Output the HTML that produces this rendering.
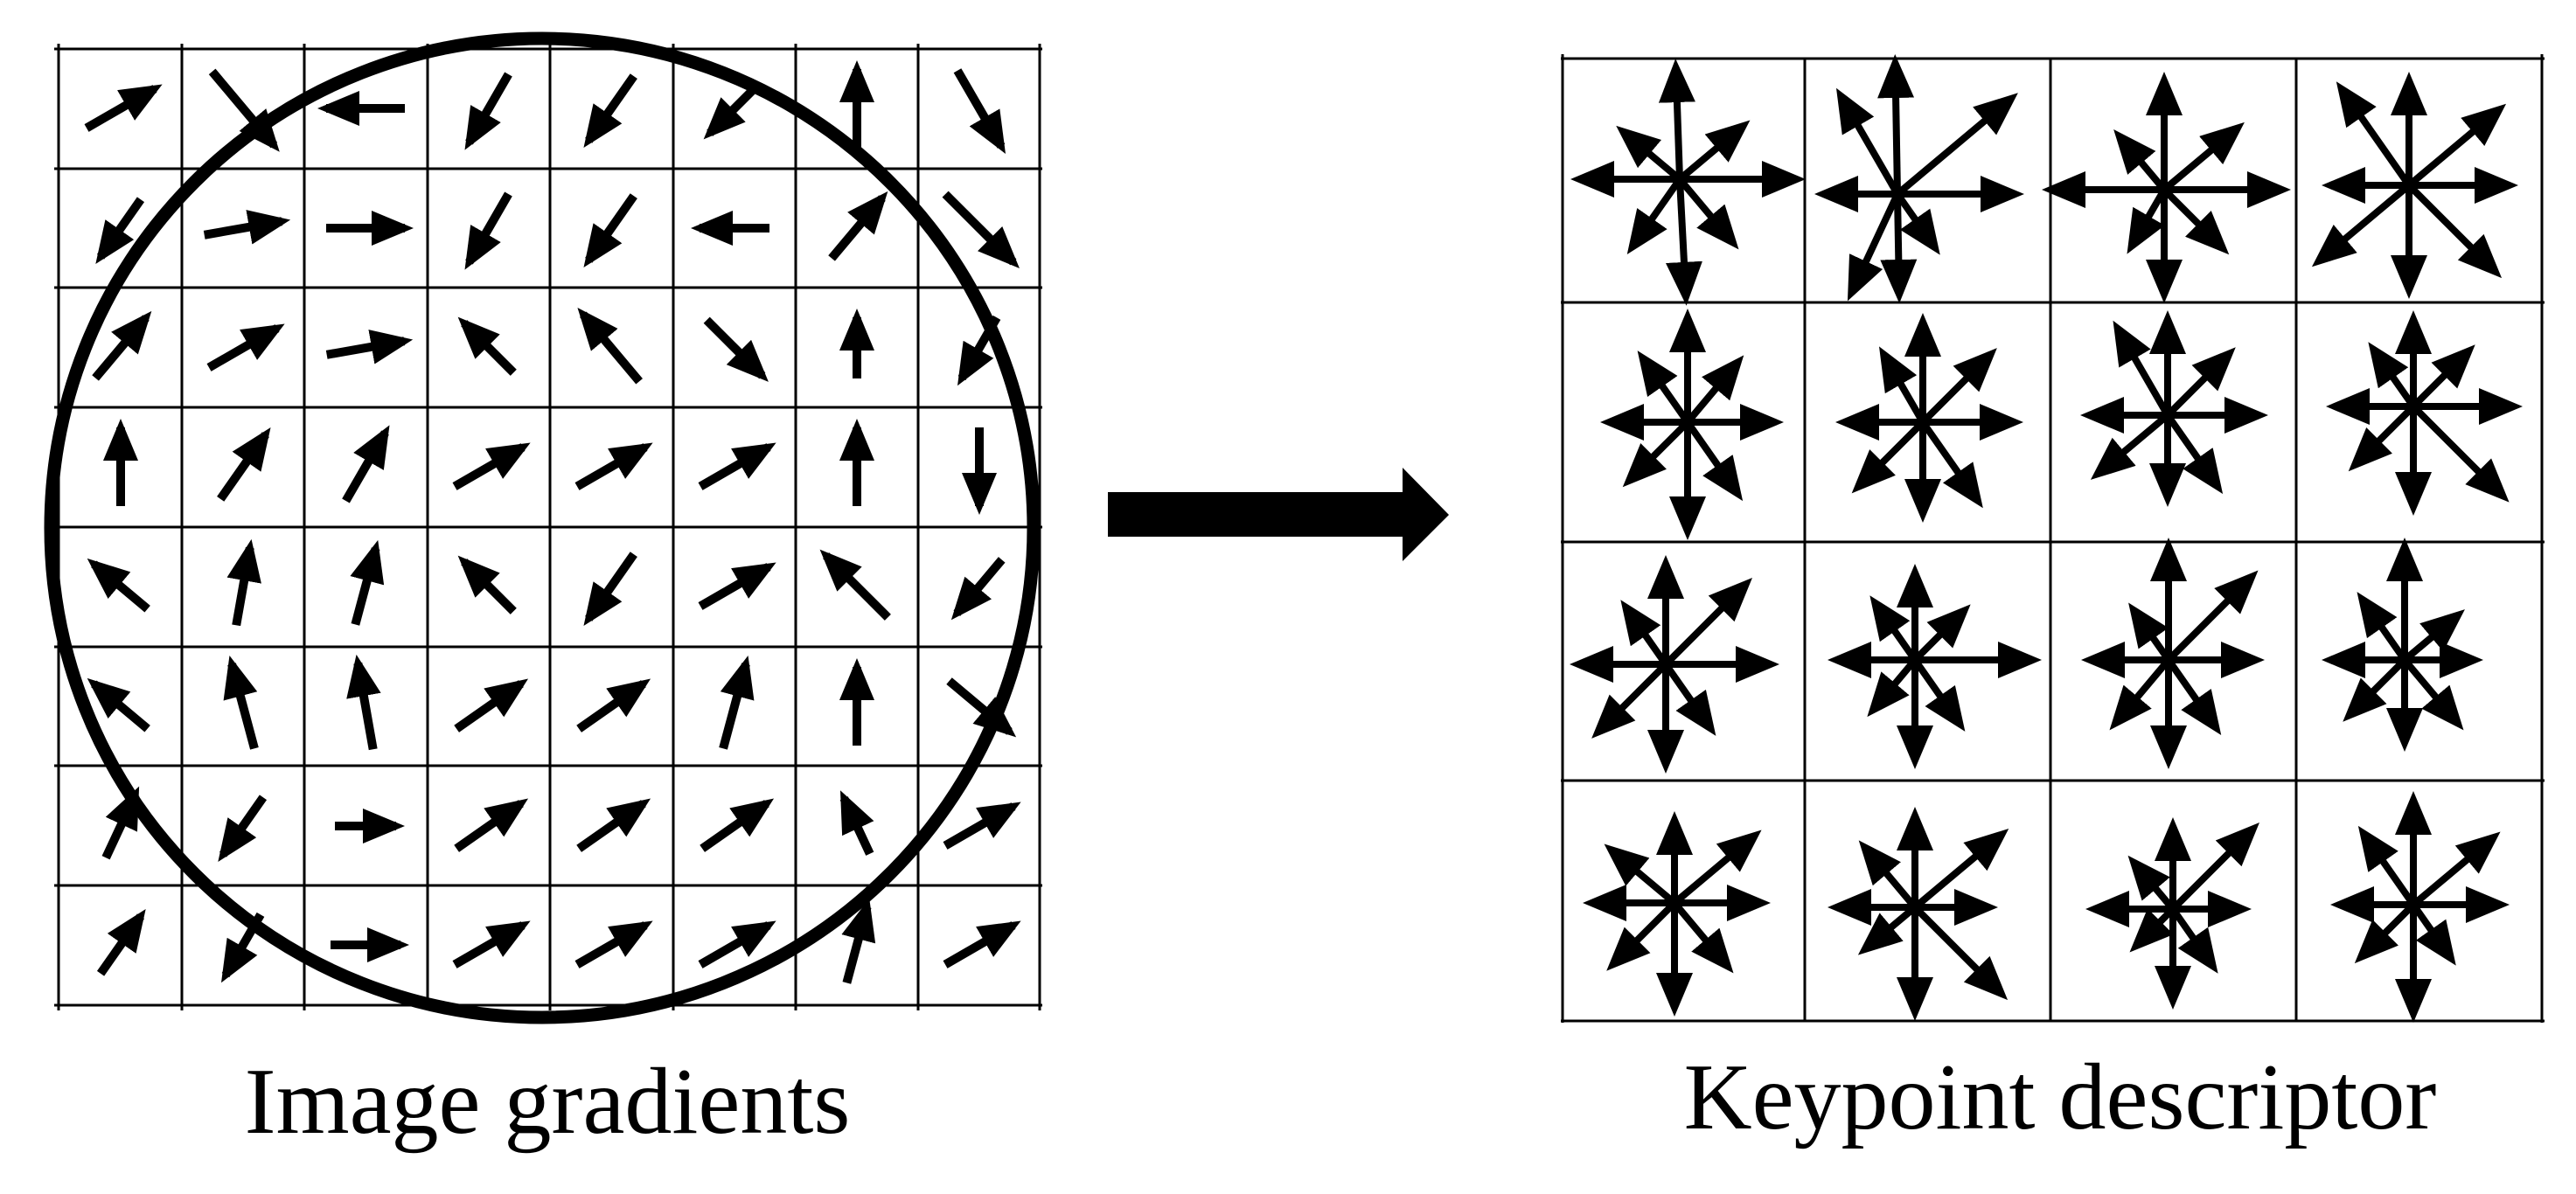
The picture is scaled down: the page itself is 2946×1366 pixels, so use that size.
<!DOCTYPE html>
<html><head><meta charset="utf-8"><style>
html,body{margin:0;padding:0;background:#fff;}
svg{display:block;}
text{font-family:"Liberation Serif",serif;}
</style></head><body>
<svg width="2946" height="1366" viewBox="0 0 2946 1366" xmlns="http://www.w3.org/2000/svg">
<defs>
<marker id="h" markerUnits="userSpaceOnUse" markerWidth="50" markerHeight="42" refX="38" refY="20" orient="auto"><path d="M0,0 L48,20 L0,40 z" fill="#000"/></marker>
<marker id="s" markerUnits="userSpaceOnUse" markerWidth="52" markerHeight="44" refX="40" refY="21" orient="auto"><path d="M0,0 L50,21 L0,42 z" fill="#000"/></marker>
</defs>
<rect width="2946" height="1366" fill="#fff"/>
<g stroke="#000" stroke-width="3">
<line x1="62" y1="56" x2="1192" y2="56"/><line x1="62" y1="193" x2="1192" y2="193"/><line x1="62" y1="329" x2="1192" y2="329"/><line x1="62" y1="466" x2="1192" y2="466"/><line x1="62" y1="603" x2="1192" y2="603"/><line x1="62" y1="740" x2="1192" y2="740"/><line x1="62" y1="876" x2="1192" y2="876"/><line x1="62" y1="1013" x2="1192" y2="1013"/><line x1="62" y1="1150" x2="1192" y2="1150"/>
<line x1="67" y1="50" x2="67" y2="1156"/><line x1="208" y1="50" x2="208" y2="1156"/><line x1="348" y1="50" x2="348" y2="1156"/><line x1="489" y1="50" x2="489" y2="1156"/><line x1="629" y1="50" x2="629" y2="1156"/><line x1="770" y1="50" x2="770" y2="1156"/><line x1="910" y1="50" x2="910" y2="1156"/><line x1="1050" y1="50" x2="1050" y2="1156"/><line x1="1189" y1="50" x2="1189" y2="1156"/>
</g>
<g stroke="#000" stroke-width="10" marker-end="url(#h)">
<g transform="translate(138,124)"><line x1="-45" y1="0" x2="45" y2="0" transform="rotate(-30)"/></g>
<g transform="translate(278,124)"><line x1="-55" y1="0" x2="55" y2="0" transform="rotate(50)"/></g>
<g transform="translate(418,124)"><line x1="-45" y1="0" x2="45" y2="0" transform="rotate(180)"/></g>
<g transform="translate(559,124)"><line x1="-45" y1="0" x2="45" y2="0" transform="rotate(120)"/></g>
<g transform="translate(699,124)"><line x1="-45" y1="0" x2="45" y2="0" transform="rotate(125)"/></g>
<g transform="translate(840,124)"><line x1="-40" y1="0" x2="40" y2="0" transform="rotate(135)"/></g>
<g transform="translate(980,124)"><line x1="-45" y1="0" x2="45" y2="0" transform="rotate(-90)"/></g>
<g transform="translate(1120,124)"><line x1="-50" y1="0" x2="50" y2="0" transform="rotate(60)"/></g>

<g transform="translate(138,261)"><line x1="-40" y1="0" x2="40" y2="0" transform="rotate(125)"/></g>
<g transform="translate(278,261)"><line x1="-45" y1="0" x2="45" y2="0" transform="rotate(-10)"/></g>
<g transform="translate(418,261)"><line x1="-45" y1="0" x2="45" y2="0" transform="rotate(0)"/></g>
<g transform="translate(559,261)"><line x1="-45" y1="0" x2="45" y2="0" transform="rotate(120)"/></g>
<g transform="translate(699,261)"><line x1="-45" y1="0" x2="45" y2="0" transform="rotate(125)"/></g>
<g transform="translate(840,261)"><line x1="-40" y1="0" x2="40" y2="0" transform="rotate(180)"/></g>
<g transform="translate(980,261)"><line x1="-45" y1="0" x2="45" y2="0" transform="rotate(-50)"/></g>
<g transform="translate(1120,261)"><line x1="-55" y1="0" x2="55" y2="0" transform="rotate(45)"/></g>

<g transform="translate(138,398)"><line x1="-45" y1="0" x2="45" y2="0" transform="rotate(-50)"/></g>
<g transform="translate(278,398)"><line x1="-45" y1="0" x2="45" y2="0" transform="rotate(-30)"/></g>
<g transform="translate(418,398)"><line x1="-45" y1="0" x2="45" y2="0" transform="rotate(-10)"/></g>
<g transform="translate(559,398)"><line x1="-40" y1="0" x2="40" y2="0" transform="rotate(-135)"/></g>
<g transform="translate(699,398)"><line x1="-50" y1="0" x2="50" y2="0" transform="rotate(-130)"/></g>
<g transform="translate(840,398)"><line x1="-45" y1="0" x2="45" y2="0" transform="rotate(45)"/></g>
<g transform="translate(980,398)"><line x1="-35" y1="0" x2="35" y2="0" transform="rotate(-90)"/></g>
<g transform="translate(1120,398)"><line x1="-40" y1="0" x2="40" y2="0" transform="rotate(120)"/></g>

<g transform="translate(138,534)"><line x1="-45" y1="0" x2="45" y2="0" transform="rotate(-90)"/></g>
<g transform="translate(278,534)"><line x1="-45" y1="0" x2="45" y2="0" transform="rotate(-55)"/></g>
<g transform="translate(418,534)"><line x1="-45" y1="0" x2="45" y2="0" transform="rotate(-60)"/></g>
<g transform="translate(559,534)"><line x1="-45" y1="0" x2="45" y2="0" transform="rotate(-30)"/></g>
<g transform="translate(699,534)"><line x1="-45" y1="0" x2="45" y2="0" transform="rotate(-30)"/></g>
<g transform="translate(840,534)"><line x1="-45" y1="0" x2="45" y2="0" transform="rotate(-30)"/></g>
<g transform="translate(980,534)"><line x1="-45" y1="0" x2="45" y2="0" transform="rotate(-90)"/></g>
<g transform="translate(1120,534)"><line x1="-45" y1="0" x2="45" y2="0" transform="rotate(90)"/></g>

<g transform="translate(138,671)"><line x1="-40" y1="0" x2="40" y2="0" transform="rotate(-140)"/></g>
<g transform="translate(278,671)"><line x1="-45" y1="0" x2="45" y2="0" transform="rotate(-80)"/></g>
<g transform="translate(418,671)"><line x1="-45" y1="0" x2="45" y2="0" transform="rotate(-75)"/></g>
<g transform="translate(559,671)"><line x1="-40" y1="0" x2="40" y2="0" transform="rotate(-135)"/></g>
<g transform="translate(699,671)"><line x1="-45" y1="0" x2="45" y2="0" transform="rotate(125)"/></g>
<g transform="translate(840,671)"><line x1="-45" y1="0" x2="45" y2="0" transform="rotate(-30)"/></g>
<g transform="translate(980,671)"><line x1="-50" y1="0" x2="50" y2="0" transform="rotate(-135)"/></g>
<g transform="translate(1120,671)"><line x1="-40" y1="0" x2="40" y2="0" transform="rotate(130)"/></g>

<g transform="translate(138,808)"><line x1="-40" y1="0" x2="40" y2="0" transform="rotate(-140)"/></g>
<g transform="translate(278,808)"><line x1="-50" y1="0" x2="50" y2="0" transform="rotate(-105)"/></g>
<g transform="translate(418,808)"><line x1="-50" y1="0" x2="50" y2="0" transform="rotate(-100)"/></g>
<g transform="translate(559,808)"><line x1="-45" y1="0" x2="45" y2="0" transform="rotate(-35)"/></g>
<g transform="translate(699,808)"><line x1="-45" y1="0" x2="45" y2="0" transform="rotate(-35)"/></g>
<g transform="translate(840,808)"><line x1="-50" y1="0" x2="50" y2="0" transform="rotate(-75)"/></g>
<g transform="translate(980,808)"><line x1="-45" y1="0" x2="45" y2="0" transform="rotate(-90)"/></g>
<g transform="translate(1120,808)"><line x1="-45" y1="0" x2="45" y2="0" transform="rotate(40)"/></g>

<g transform="translate(138,945)"><line x1="-40" y1="0" x2="40" y2="0" transform="rotate(-65)"/></g>
<g transform="translate(278,945)"><line x1="-40" y1="0" x2="40" y2="0" transform="rotate(125)"/></g>
<g transform="translate(418,945)"><line x1="-35" y1="0" x2="35" y2="0" transform="rotate(0)"/></g>
<g transform="translate(559,945)"><line x1="-45" y1="0" x2="45" y2="0" transform="rotate(-35)"/></g>
<g transform="translate(699,945)"><line x1="-45" y1="0" x2="45" y2="0" transform="rotate(-35)"/></g>
<g transform="translate(840,945)"><line x1="-45" y1="0" x2="45" y2="0" transform="rotate(-35)"/></g>
<g transform="translate(980,945)"><line x1="-35" y1="0" x2="35" y2="0" transform="rotate(-115)"/></g>
<g transform="translate(1120,945)"><line x1="-45" y1="0" x2="45" y2="0" transform="rotate(-30)"/></g>

<g transform="translate(138,1081)"><line x1="-40" y1="0" x2="40" y2="0" transform="rotate(-55)"/></g>
<g transform="translate(278,1081)"><line x1="-40" y1="0" x2="40" y2="0" transform="rotate(120)"/></g>
<g transform="translate(418,1081)"><line x1="-40" y1="0" x2="40" y2="0" transform="rotate(0)"/></g>
<g transform="translate(559,1081)"><line x1="-45" y1="0" x2="45" y2="0" transform="rotate(-30)"/></g>
<g transform="translate(699,1081)"><line x1="-45" y1="0" x2="45" y2="0" transform="rotate(-30)"/></g>
<g transform="translate(840,1081)"><line x1="-45" y1="0" x2="45" y2="0" transform="rotate(-30)"/></g>
<g transform="translate(980,1081)"><line x1="-45" y1="0" x2="45" y2="0" transform="rotate(-75)"/></g>
<g transform="translate(1120,1081)"><line x1="-45" y1="0" x2="45" y2="0" transform="rotate(-30)"/></g>
</g>
<ellipse cx="620" cy="604" rx="562" ry="560" fill="none" stroke="#000" stroke-width="15"/>
<path d="M1267,563 L1604,563 L1604,535 L1657,589 L1604,642 L1604,614 L1267,614 z" fill="#000"/>
<g stroke="#000" stroke-width="3">
<line x1="1785" y1="67" x2="2910" y2="67"/><line x1="1785" y1="346" x2="2910" y2="346"/><line x1="1785" y1="620" x2="2910" y2="620"/><line x1="1785" y1="893" x2="2910" y2="893"/><line x1="1785" y1="1168" x2="2910" y2="1168"/>
<line x1="1787" y1="62" x2="1787" y2="1170"/><line x1="2064" y1="67" x2="2064" y2="1168"/><line x1="2345" y1="67" x2="2345" y2="1168"/><line x1="2626" y1="67" x2="2626" y2="1168"/><line x1="2907" y1="62" x2="2907" y2="1170"/>
</g>
<g stroke="#000" stroke-width="8" marker-end="url(#s)">
<g transform="translate(1921,205)"><line x2="134" transform="rotate(0)"/><line x2="95" transform="rotate(-40)"/><line x2="128" transform="rotate(-92)"/><line x2="85" transform="rotate(-140)"/><line x2="115" transform="rotate(180)"/><line x2="95" transform="rotate(125)"/><line x2="135" transform="rotate(87)"/><line x2="95" transform="rotate(50)"/></g>
<g transform="translate(2170,222)"><line x2="135" transform="rotate(0)"/><line x2="170" transform="rotate(-40)"/><line x2="150" transform="rotate(-91)"/><line x2="130" transform="rotate(-120)"/><line x2="85" transform="rotate(180)"/><line x2="125" transform="rotate(115)"/><line x2="115" transform="rotate(89)"/><line x2="75" transform="rotate(55)"/></g>
<g transform="translate(2475,217)"><line x2="135" transform="rotate(0)"/><line x2="110" transform="rotate(-40)"/><line x2="125" transform="rotate(-90)"/><line x2="80" transform="rotate(-130)"/><line x2="130" transform="rotate(180)"/><line x2="75" transform="rotate(120)"/><line x2="120" transform="rotate(90)"/><line x2="95" transform="rotate(45)"/></g>
<g transform="translate(2755,212)"><line x2="115" transform="rotate(0)"/><line x2="135" transform="rotate(-40)"/><line x2="120" transform="rotate(-90)"/><line x2="135" transform="rotate(-125)"/><line x2="90" transform="rotate(180)"/><line x2="135" transform="rotate(140)"/><line x2="120" transform="rotate(90)"/><line x2="140" transform="rotate(45)"/></g>

<g transform="translate(1930,483)"><line x2="100" transform="rotate(0)"/><line x2="90" transform="rotate(-50)"/><line x2="120" transform="rotate(-90)"/><line x2="90" transform="rotate(-125)"/><line x2="90" transform="rotate(180)"/><line x2="95" transform="rotate(135)"/><line x2="125" transform="rotate(90)"/><line x2="100" transform="rotate(55)"/></g>
<g transform="translate(2199,483)"><line x2="105" transform="rotate(0)"/><line x2="110" transform="rotate(-45)"/><line x2="115" transform="rotate(-90)"/><line x2="90" transform="rotate(-120)"/><line x2="90" transform="rotate(180)"/><line x2="105" transform="rotate(135)"/><line x2="105" transform="rotate(90)"/><line x2="110" transform="rotate(55)"/></g>
<g transform="translate(2479,475)"><line x2="105" transform="rotate(0)"/><line x2="100" transform="rotate(-45)"/><line x2="110" transform="rotate(-90)"/><line x2="115" transform="rotate(-120)"/><line x2="90" transform="rotate(180)"/><line x2="105" transform="rotate(140)"/><line x2="95" transform="rotate(90)"/><line x2="100" transform="rotate(55)"/></g>
<g transform="translate(2760,465)"><line x2="115" transform="rotate(0)"/><line x2="90" transform="rotate(-45)"/><line x2="100" transform="rotate(-90)"/><line x2="80" transform="rotate(-125)"/><line x2="90" transform="rotate(180)"/><line x2="95" transform="rotate(135)"/><line x2="115" transform="rotate(90)"/><line x2="145" transform="rotate(45)"/></g>

<g transform="translate(1905,760)"><line x2="120" transform="rotate(0)"/><line x2="130" transform="rotate(-45)"/><line x2="115" transform="rotate(-90)"/><line x2="80" transform="rotate(-125)"/><line x2="100" transform="rotate(180)"/><line x2="110" transform="rotate(135)"/><line x2="115" transform="rotate(90)"/><line x2="90" transform="rotate(55)"/></g>
<g transform="translate(2190,755)"><line x2="135" transform="rotate(0)"/><line x2="80" transform="rotate(-45)"/><line x2="100" transform="rotate(-90)"/><line x2="80" transform="rotate(-125)"/><line x2="90" transform="rotate(180)"/><line x2="75" transform="rotate(130)"/><line x2="115" transform="rotate(90)"/><line x2="90" transform="rotate(55)"/></g>
<g transform="translate(2480,755)"><line x2="100" transform="rotate(0)"/><line x2="135" transform="rotate(-45)"/><line x2="130" transform="rotate(-90)"/><line x2="70" transform="rotate(-125)"/><line x2="90" transform="rotate(180)"/><line x2="95" transform="rotate(130)"/><line x2="115" transform="rotate(90)"/><line x2="95" transform="rotate(55)"/></g>
<g transform="translate(2750,755)"><line x2="80" transform="rotate(0)"/><line x2="80" transform="rotate(-40)"/><line x2="130" transform="rotate(-90)"/><line x2="85" transform="rotate(-125)"/><line x2="85" transform="rotate(180)"/><line x2="90" transform="rotate(135)"/><line x2="95" transform="rotate(90)"/><line x2="95" transform="rotate(50)"/></g>

<g transform="translate(1915,1033)"><line x2="100" transform="rotate(0)"/><line x2="120" transform="rotate(-40)"/><line x2="95" transform="rotate(-90)"/><line x2="95" transform="rotate(-140)"/><line x2="95" transform="rotate(180)"/><line x2="100" transform="rotate(135)"/><line x2="120" transform="rotate(90)"/><line x2="95" transform="rotate(50)"/></g>
<g transform="translate(2190,1038)"><line x2="85" transform="rotate(0)"/><line x2="130" transform="rotate(-40)"/><line x2="105" transform="rotate(-90)"/><line x2="90" transform="rotate(-130)"/><line x2="90" transform="rotate(180)"/><line x2="75" transform="rotate(140)"/><line x2="120" transform="rotate(90)"/><line x2="140" transform="rotate(45)"/></g>
<g transform="translate(2485,1040)"><line x2="80" transform="rotate(0)"/><line x2="130" transform="rotate(-45)"/><line x2="95" transform="rotate(-90)"/><line x2="70" transform="rotate(-130)"/><line x2="90" transform="rotate(180)"/><line x2="60" transform="rotate(135)"/><line x2="105" transform="rotate(90)"/><line x2="80" transform="rotate(55)"/></g>
<g transform="translate(2760,1035)"><line x2="100" transform="rotate(0)"/><line x2="120" transform="rotate(-40)"/><line x2="120" transform="rotate(-90)"/><line x2="100" transform="rotate(-125)"/><line x2="85" transform="rotate(180)"/><line x2="85" transform="rotate(135)"/><line x2="125" transform="rotate(90)"/><line x2="75" transform="rotate(55)"/></g>
</g>
<text x="626" y="1296" font-size="108" text-anchor="middle" fill="#000">Image gradients</text>
<text x="2356" y="1291" font-size="108" text-anchor="middle" fill="#000">Keypoint descriptor</text>
</svg>
</body></html>
